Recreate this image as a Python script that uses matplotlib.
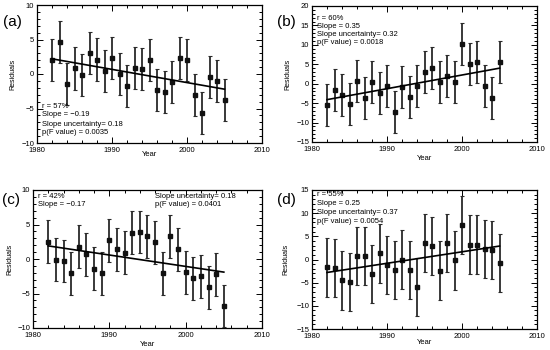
import matplotlib
matplotlib.use("Agg")
import matplotlib.pyplot as plt
from matplotlib.ticker import MultipleLocator, FuncFormatter

plt.rcParams['font.family'] = ['Liberation Sans', 'DejaVu Sans']

years = list(range(1982, 2006))

res_a = [2.0, 4.7, -1.5, 0.8, -0.1, 3.1, 2.1, 0.4, 2.3, 0.0, -1.7, 0.9,
         0.7, 2.0, -2.3, -2.6, -1.1, 2.3, 2.0, -3.1, -5.6, -0.5, -1.0, -3.8]
err_a = 3.05
fit_a = [2.2, -2.2]

res_b = [-5.5, -1.7, -2.8, -5.1, 0.7, -3.6, 0.4, -2.5, -0.6, -7.2, -0.8, -3.4,
         -0.6, 3.1, 4.1, 0.5, 2.0, 0.5, 10.3, 5.0, 5.6, -0.5, -3.6, 5.5]
err_b = 5.4
fit_b = [-4.1, 4.0]

res_c = [2.5, -0.1, -0.3, -2.1, 1.8, 0.7, -1.4, -2.1, 2.7, 1.4, 0.9, 3.8,
         3.9, 3.3, 2.4, -2.1, 3.3, 1.4, -1.9, -2.8, -2.5, -4.1, -2.2, -6.8]
err_c = 3.1
fit_c = [1.9, -1.9]

res_d = [-1.7, -1.9, -4.5, -4.8, 0.7, 0.7, -3.1, 1.3, -1.2, -2.2, 0.0, -2.3,
         -6.0, 3.5, 2.9, -2.4, 3.6, -0.2, 7.4, 3.2, 3.2, 2.2, 2.0, -0.8]
err_d = 6.3
fit_d = [-2.8, 2.9]

panel_labels = ["(a)", "(b)", "(c)", "(d)"]
ylims = [(-10, 10), (-15, 20), (-10, 10), (-15, 15)]

W, H = 550, 350
fig = plt.figure(figsize=(5.5, 3.5), dpi=100)
fig.patch.set_facecolor("white")


def px_axes(l, t, r, b):
    return fig.add_axes([l / W, 1 - b / H, (r - l) / W, (b - t) / H])


boxes = [(37, 5, 262, 143), (312, 6, 537, 142), (33, 190, 262, 328), (312, 190, 537, 329)]
data = [(res_a, err_a, fit_a), (res_b, err_b, fit_b), (res_c, err_c, fit_c), (res_d, err_d, fit_d)]

texts = [
    [("r = 57%", 0, 106), ("Slope = \u22120.19", 0, 115),
     ("Slope uncertainty= 0.18", 0, 124), ("p(F value) = 0.0035", 0, 133)],
    [("r = 60%", 0, 19), ("Slope = 0.35", 0, 27),
     ("Slope uncertainty= 0.32", 0, 35), ("p(F value) = 0.0018", 0, 43)],
    [("r = 42%", 0, 196), ("Slope = \u22120.17", 0, 205),
     ("Slope uncertainty= 0.18", 155, 196), ("p(F value) = 0.0401", 155, 205)],
    [("r = 55%", 0, 195), ("Slope = 0.25", 0, 204),
     ("Slope uncertainty= 0.37", 0, 213), ("p(F value) = 0.0054", 0, 222)],
]

label_pos = [(3, 22), (277, 22), (2, 200), (277, 200)]
ylabel_x = [13, 288, 10, 286]
xlabel_y = [155, 158, 344, 343]

for i, (box, (res, err, fit)) in enumerate(zip(boxes, data)):
    l, t, r, b = box
    ax = px_axes(*box)
    ax.errorbar(years, res, yerr=err, fmt="s", ms=2.2, color="#111111",
                ecolor="#2a2a2a", elinewidth=1.3, capsize=1.5, capthick=0.8, zorder=3)
    ax.plot([years[0], years[-1]], fit, color="black", lw=1.2, zorder=4)
    ax.set_xlim(1980, 2010)
    ax.set_ylim(*ylims[i])
    ax.xaxis.set_major_locator(MultipleLocator(10))
    ax.xaxis.set_minor_locator(MultipleLocator(2))
    ax.yaxis.set_major_locator(MultipleLocator(5))
    ax.yaxis.set_minor_locator(MultipleLocator(1))
    ax.tick_params(which="both", direction="in", top=True, right=True, labelsize=5.5)
    ax.tick_params(axis="x", pad=3.2)
    ax.tick_params(axis="y", pad=2)
    ax.tick_params(which="major", length=4, width=0.7)
    ax.tick_params(which="minor", length=2, width=0.7)
    for s in ax.spines.values():
        s.set_linewidth(0.9)
    ax.yaxis.set_major_formatter(FuncFormatter(
        lambda v, p: ("\u2212%d" % abs(v)) if v < 0 else "%d" % v))
    ax.set_xlabel("Year", fontsize=5.5)
    ax.set_ylabel("Residuals", fontsize=5)
    ax.xaxis.label.set_va("center")
    ax.yaxis.label.set_va("center")
    ax.xaxis.set_label_coords(0.5, -(xlabel_y[i] - b) / (b - t))
    ax.yaxis.set_label_coords((ylabel_x[i] - l) / (r - l), 0.5)
    for (txt, xpx, ypx) in texts[i]:
        xf = (5 if xpx == 0 else (xpx - l)) / (r - l)
        yf = 1 - (ypx - t) / (b - t)
        ax.text(xf, yf, txt, transform=ax.transAxes, fontsize=5.5, va="center", ha="left")
    lx, ly = label_pos[i]
    fig.text(lx / W, 1 - ly / H, panel_labels[i], fontsize=11, va="center", ha="left")

fig.savefig("out.png", dpi=100)
